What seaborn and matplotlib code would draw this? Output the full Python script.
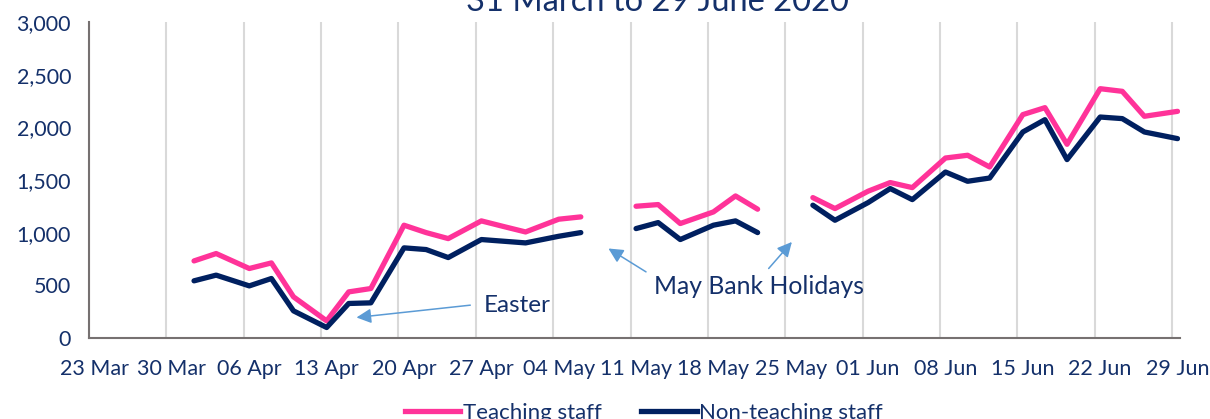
import matplotlib
matplotlib.use("Agg")
import matplotlib.pyplot as plt
import numpy as np
import pandas as pd
import seaborn as sns

# data
dates = [
    "2020-04-01", "2020-04-03", "2020-04-06", "2020-04-08", "2020-04-10",
    "2020-04-13", "2020-04-15", "2020-04-17", "2020-04-20", "2020-04-22",
    "2020-04-24", "2020-04-27", "2020-04-29", "2020-05-01", "2020-05-04",
    "2020-05-06",
    "2020-05-11", "2020-05-13", "2020-05-15", "2020-05-18", "2020-05-20",
    "2020-05-22",
    "2020-05-27", "2020-05-29", "2020-06-01", "2020-06-03", "2020-06-05",
    "2020-06-08", "2020-06-10", "2020-06-12", "2020-06-15", "2020-06-17",
    "2020-06-19", "2020-06-22", "2020-06-24", "2020-06-26", "2020-06-29",
]
segment = [0] * 16 + [1] * 6 + [2] * 15
teaching = [733, 803, 661, 714, 392, 164, 439, 471, 1072, 1002, 945, 1113,
            1060, 1008, 1129, 1151,
            1252, 1268, 1088, 1198, 1350, 1224,
            1334, 1230, 1395, 1477, 1429, 1710, 1736, 1625, 2122, 2188,
            1840, 2368, 2343, 2106, 2153]
non_teaching = [544, 598, 496, 566, 259, 101, 329, 335, 857, 841, 765, 936,
                920, 904, 967, 1002,
                1040, 1097, 936, 1072, 1113, 1002,
                1262, 1119, 1287, 1420, 1315, 1577, 1489, 1520, 1957, 2074,
                1695, 2099, 2084, 1957, 1894]
tick_dates = pd.date_range("2020-03-23", "2020-06-29", freq="7D")
title = "31 March to 29 June 2020"

start = pd.Timestamp("2020-03-23")
day = (pd.to_datetime(dates) - start).days
df = pd.concat([
    pd.DataFrame({"day": day, "value": teaching, "seg": segment, "series": "Teaching staff"}),
    pd.DataFrame({"day": day, "value": non_teaching, "seg": segment, "series": "Non-teaching staff"}),
])

navy_text = "#14306A"
plt.rcParams["font.family"] = ["Lato", "DejaVu Sans"]

fig = plt.figure(figsize=(12.1, 4.19), dpi=100)
ax = fig.add_axes([0.0736, 0.193, 0.9014, 0.7542])

sns.lineplot(data=df, x="day", y="value", hue="series", units="seg", estimator=None,
             palette={"Teaching staff": "#FF3399", "Non-teaching staff": "#002060"},
             linewidth=3.8, ax=ax, legend=False, solid_capstyle="round")

tick_days = (tick_dates - start).days
ax.set_xticks(tick_days)
ax.set_xticklabels([d.strftime("%d %b") for d in tick_dates])
ax.set_xticks(np.array(tick_days) - 0.5, minor=True)
ax.grid(which="minor", axis="x", color="#D9D9D9", linewidth=1.5)
ax.grid(which="major", visible=False)
ax.set_xlim(-0.5, 98.2)
ax.set_ylim(0, 3000)
ax.set_yticks(np.arange(0, 3001, 500))
ax.yaxis.set_major_formatter(matplotlib.ticker.StrMethodFormatter("{x:,.0f}"))
ax.tick_params(which="both", length=0)
ax.tick_params(axis="y", pad=13, labelsize=15.5, labelcolor=navy_text)
ax.tick_params(axis="x", pad=15, labelsize=15.5, labelcolor=navy_text)
ax.set_xlabel("")
ax.set_ylabel("")
for side in ["top", "right"]:
    ax.spines[side].set_visible(False)
for side in ["left", "bottom"]:
    ax.spines[side].set_color("#767171")
    ax.spines[side].set_linewidth(1.5)

# annotations
arrow = dict(arrowstyle="-|>", color="#5B9BD5", lw=1.1, mutation_scale=22,
             shrinkA=0, shrinkB=0)
ax.annotate("", xy=(23.7, 196), xytext=(34.0, 313), arrowprops=arrow)
ax.text(35.2, 313, "Easter", fontsize=17.5, color=navy_text, va="center", ha="left")
ax.annotate("", xy=(46.5, 851), xytext=(49.9, 629), arrowprops=arrow)
ax.annotate("", xy=(63.1, 913), xytext=(61.0, 661), arrowprops=arrow)
ax.text(50.6, 493, "May Bank Holidays", fontsize=17.8, color=navy_text, va="center", ha="left")

fig.text(0.543, 1 - 11 / 419, title, fontsize=23.5, color=navy_text, ha="center", va="baseline")

handles = [plt.Line2D([], [], color="#FF3399", lw=3.8),
           plt.Line2D([], [], color="#002060", lw=3.8)]
fig.legend(handles, ["Teaching staff", "Non-teaching staff"], loc="center",
           bbox_to_anchor=(0.532, 1 - 413 / 419), ncol=2, frameon=False,
           fontsize=16, labelcolor=navy_text, handlelength=2.5, handletextpad=0.1,
           columnspacing=1.8)

fig.savefig("out.png", dpi=100)
